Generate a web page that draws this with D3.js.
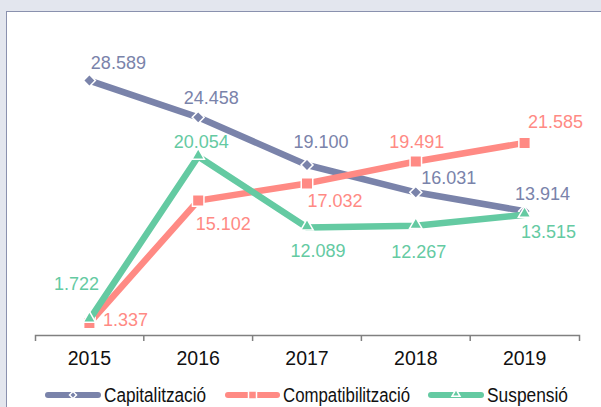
<!DOCTYPE html>
<html>
<head>
<meta charset="utf-8">
<script src="https://cdn.jsdelivr.net/npm/d3@7"></script>
<style>
  html, body { margin: 0; padding: 0; background: #e3e6ee; }
  svg { display: block; }
</style>
</head>
<body>
<svg id="chart" width="601" height="407"></svg>
<script>
// Categories and series values
const years = ["2015", "2016", "2017", "2018", "2019"];
const capitalitzacio = [28589, 24458, 19100, 16031, 13914];
const compatibilitzacio = [1337, 15102, 17032, 19491, 21585];
const suspensio = [1722, 20054, 12089, 12267, 13515];
const seriesNames = ["Capitalització", "Compatibilització", "Suspensió"];

// Data label placement relative to each marker [dx, dy] (layout only)
const labelOffsets = [
  [[29, -12], [13, -13], [14, -17], [33, -8], [18, -11]],
  [[36, 3], [25, 29], [28, 24], [1, -14], [31, -15]],
  [[-13, -30], [3, -9], [11, 30], [3, 32], [24, 23]]
];

const colors = ["#7a83aa", "#ff8a84", "#64caa2"];
const symbols = ["diamond", "square", "triangle"];

const svg = d3.select("#chart");
const font = "'Liberation Sans', Arial, sans-serif";

// Chart panel
svg.append("rect")
  .attr("x", 6.5).attr("y", 11.5)
  .attr("width", 620).attr("height", 420)
  .attr("fill", "#ffffff")
  .attr("stroke", "#8a91ae").attr("stroke-width", 1);

const x = d3.scaleBand().domain(years).range([35, 579]).padding(0);
const y = d3.scaleLinear().domain([0, 35000]).range([335, 23.5]);
const cx = d => x(d) + x.bandwidth() / 2;

const fmt = d3.formatLocale({ decimal: ",", thousands: ".", grouping: [3], currency: ["", " €"] }).format(",d");

// Category axis with ticks between categories
const axisG = svg.append("g").attr("transform", "translate(0,335)");
axisG.call(d3.axisBottom(x).tickSizeInner(0).tickSizeOuter(6).tickPadding(0));
axisG.select(".domain").attr("stroke", "#808080").attr("stroke-width", 1.5);
axisG.selectAll(".tick line").remove();
axisG.selectAll(".tick text")
  .attr("y", 30).attr("dy", 0)
  .attr("fill", "#111")
  .style("font-family", font).style("font-size", "19.5px");
axisG.selectAll("line.sep")
  .data(years.slice(1))
  .join("line")
  .attr("class", "sep")
  .attr("x1", d => x(d)).attr("x2", d => x(d))
  .attr("y1", 0).attr("y2", 6)
  .attr("stroke", "#808080").attr("stroke-width", 1.5);

// Marker path generators (diamond is a square turned 45 degrees)
function markerPath(kind, s) {
  if (kind === "square") return d3.symbol(d3.symbolSquare, s * s)();
  if (kind === "triangle") return d3.symbol(d3.symbolTriangle, s * s * Math.sqrt(3) / 4)();
  return d3.symbol(d3.symbolSquare, (s * s) / 2)();
}
const markerSize = { diamond: 12, square: 11.5, triangle: 12.5 };

const seriesData = [capitalitzacio, compatibilitzacio, suspensio];

const line = d3.line()
  .x((d, i) => cx(years[i]))
  .y(d => y(d));

seriesData.forEach((vals, si) => {
  const kind = symbols[si];
  const g = svg.append("g");
  g.append("path")
    .datum(vals)
    .attr("d", line)
    .attr("fill", "none")
    .attr("stroke", colors[si])
    .attr("stroke-width", 6.5)
    .attr("stroke-linejoin", "round")
    .attr("stroke-linecap", "round");

  g.selectAll("path.mk")
    .data(vals)
    .join("path")
    .attr("class", "mk")
    .attr("d", markerPath(kind, markerSize[kind]))
    .attr("transform", (d, i) => {
      const rot = kind === "diamond" ? " rotate(45)" : "";
      const shift = kind === "triangle" ? -1 : 0;
      return `translate(${cx(years[i])},${y(d) + shift})${rot}`;
    })
    .attr("fill", colors[si])
    .attr("stroke", "#fff")
    .attr("stroke-width", 1.5);
});

// Data labels
seriesData.forEach((vals, si) => {
  svg.append("g").selectAll("text")
    .data(vals)
    .join("text")
    .attr("x", (d, i) => cx(years[i]) + labelOffsets[si][i][0])
    .attr("y", (d, i) => y(d) + labelOffsets[si][i][1])
    .attr("text-anchor", "middle")
    .attr("fill", colors[si])
    .style("font-family", font)
    .style("font-size", "18px")
    .text(d => fmt(d));
});

// Legend
const legendItems = [
  { x0: 45, x1: 101, tx: 104, w: 102 },
  { x0: 225, x1: 280, tx: 283, w: 127 },
  { x0: 428, x1: 484, tx: 487, w: 81 }
];
const lg = svg.append("g");
legendItems.forEach((it, si) => {
  const kind = symbols[si];
  lg.append("line")
    .attr("x1", it.x0 + 3).attr("x2", it.x1 - 3)
    .attr("y1", 395).attr("y2", 395)
    .attr("stroke", colors[si]).attr("stroke-width", 6)
    .attr("stroke-linecap", "round");
  const mx = (it.x0 + it.x1) / 2;
  lg.append("path")
    .attr("d", markerPath(kind, kind === "diamond" ? 7 : 8))
    .attr("transform", `translate(${mx},${kind === "triangle" ? 394 : 395})${kind === "diamond" ? " rotate(45)" : ""}`)
    .attr("fill", colors[si])
    .attr("stroke", "#fff").attr("stroke-width", 1.5);
  lg.append("text")
    .attr("x", it.tx).attr("y", 402)
    .attr("fill", "#111")
    .attr("textLength", it.w)
    .attr("lengthAdjust", "spacingAndGlyphs")
    .style("font-family", font)
    .style("font-size", "19.5px")
    .text(seriesNames[si]);
});
</script>
</body>
</html>
